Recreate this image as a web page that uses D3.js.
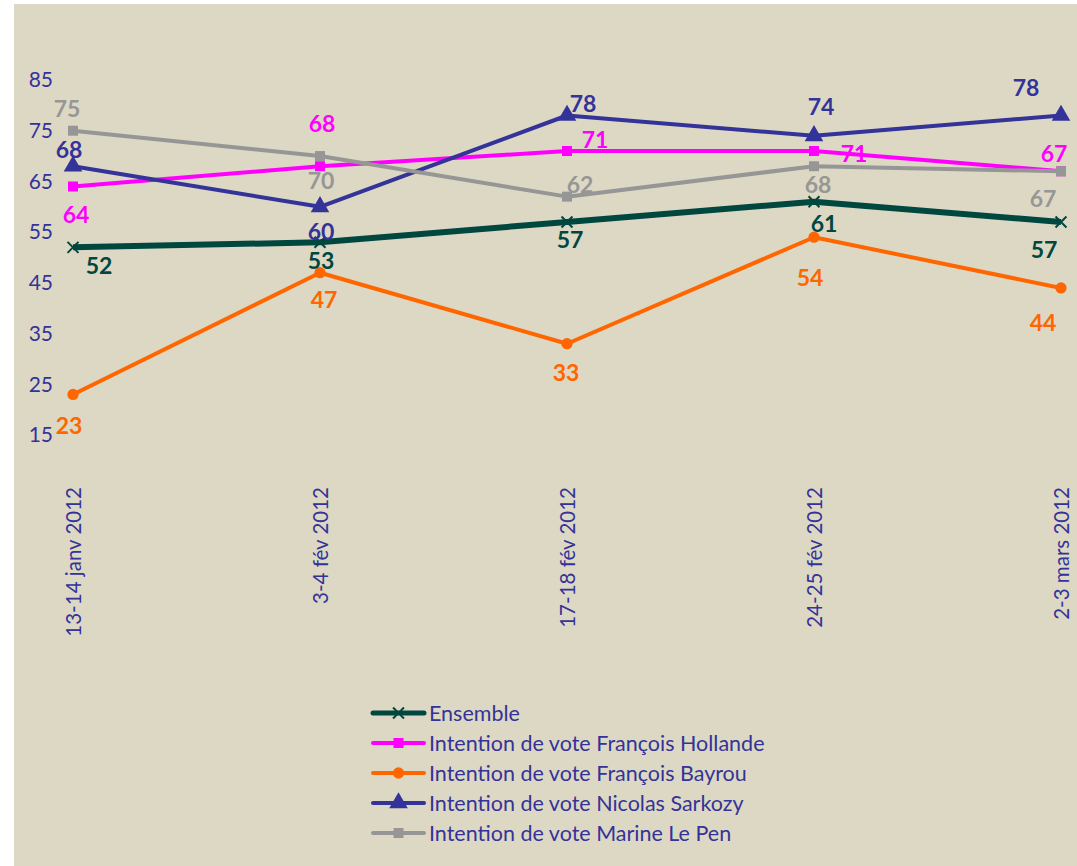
<!DOCTYPE html>
<html>
<head>
<meta charset="utf-8">
<script src="https://cdn.jsdelivr.net/npm/d3@7"></script>
<style>
  html, body { margin: 0; padding: 0; background: #fff; }
  svg { display: block; }
  text { font-family: Lato, "Open Sans", sans-serif; }
</style>
</head>
<body>
<div id="chart"></div>
<script>
// survey dates (x categories)
var dates = ["13-14 janv 2012", "3-4 fév 2012", "17-18 fév 2012", "24-25 fév 2012", "2-3 mars 2012"];

// series values
var ensemble = [52, 53, 57, 61, 57];
var hollande = [64, 68, 71, 71, 67];
var bayrou   = [23, 47, 33, 54, 44];
var sarkozy  = [68, 60, 78, 74, 78];
var lepen    = [75, 70, 62, 68, 67];

var yTicks = [15, 25, 35, 45, 55, 65, 75, 85];

var names = ["Ensemble",
             "Intention de vote François Hollande",
             "Intention de vote François Bayrou",
             "Intention de vote Nicolas Sarkozy",
             "Intention de vote Marine Le Pen"];

// styling for each series (same order as names)
var series = [
  { values: ensemble, color: "#00473f", width: 6,   marker: "times"   },
  { values: hollande, color: "#ff00ff", width: 4,   marker: "square"  },
  { values: bayrou,   color: "#ff6600", width: 4,   marker: "circle"  },
  { values: sarkozy,  color: "#333399", width: 4,   marker: "triangle"},
  { values: lepen,    color: "#969696", width: 4,   marker: "square"  }
];
series.forEach(function(s, i) { s.name = names[i]; });

// data label offsets from the point (dx, dy), roughly as Excel placed them
var labelOffsets = [
  [[26, 18], [1, 18], [3, 18], [10, 22], [-17, 28]],
  [[3, 28], [2, -42], [28, -11], [40, 3], [-7, -18]],
  [[-4, 31], [4, 27], [-1, 29], [-4, 41], [-18, 35]],
  [[-4, -16], [1, 25], [16, -12], [7, -29], [-35, -28]],
  [[-6, -22], [1, 25], [13, -12], [4, 19], [-18, 27]]
];

var width = 1077, height = 866;

var svg = d3.select("#chart").append("svg")
    .attr("width", width)
    .attr("height", height);

// chart area background
svg.append("rect")
    .attr("x", 14).attr("y", 4)
    .attr("width", width - 14).attr("height", height - 4)
    .attr("fill", "#ddd8c3");

var x = d3.scalePoint().domain(dates).range([73, 1061]);
var y = d3.scaleLinear().domain([15, 85]).range([435, 80]);

var axisColor = "#333399";

// y axis labels only, no line
var yAxis = svg.append("g")
    .attr("transform", "translate(53,0)")
    .call(d3.axisLeft(y).tickValues(yTicks).tickSize(0).tickPadding(0));
yAxis.select(".domain").remove();
yAxis.selectAll("text")
    .attr("fill", axisColor)
    .style("font-size", "21px")
    .style("font-family", "Lato, sans-serif");

// x axis labels, rotated
var xAxis = svg.append("g")
    .attr("transform", "translate(0,487)")
    .call(d3.axisBottom(x).tickSize(0).tickPadding(0));
xAxis.select(".domain").remove();
xAxis.selectAll("text")
    .attr("fill", axisColor)
    .style("font-size", "20.5px")
    .style("font-family", "Lato, sans-serif")
    .attr("text-anchor", "end")
    .attr("dy", "0.35em")
    .attr("y", 0)
    .attr("transform", "rotate(-90)");

var line = d3.line()
    .x(function(d, i) { return x(dates[i]); })
    .y(function(d) { return y(d); });

function markerPath(type) {
  if (type === "square") return d3.symbol().type(d3.symbolSquare).size(100)();
  if (type === "circle") return d3.symbol().type(d3.symbolCircle).size(100)();
  if (type === "triangle") return d3.symbol().type(d3.symbolTriangle).size(150)();
  return d3.symbol().type(d3.symbolTimes).size(80)();
}

function drawMarker(g, s, cx, cy) {
  var m = g.append("path")
      .attr("d", markerPath(s.marker))
      .attr("transform", "translate(" + cx + "," + cy + ")");
  if (s.marker === "times") {
    m.attr("fill", "none").attr("stroke", s.color).attr("stroke-width", 2);
  } else {
    m.attr("fill", s.color);
  }
}

var plot = svg.append("g");

series.forEach(function(s) {
  var g = plot.append("g");
  g.append("path")
      .datum(s.values)
      .attr("d", line)
      .attr("fill", "none")
      .attr("stroke", s.color)
      .attr("stroke-width", s.width)
      .attr("stroke-linejoin", "round");
  s.values.forEach(function(v, i) {
    drawMarker(g, s, x(dates[i]), y(v));
  });
});

// data labels on top
var labels = svg.append("g");
series.forEach(function(s, k) {
  labels.selectAll(null)
    .data(s.values)
    .enter().append("text")
      .attr("x", function(d, i) { return x(dates[i]) + labelOffsets[k][i][0]; })
      .attr("y", function(d, i) { return y(d) + labelOffsets[k][i][1]; })
      .attr("dy", "0.36em")
      .attr("text-anchor", "middle")
      .attr("fill", s.color)
      .style("font-size", "23px")
      .style("font-weight", "bold")
      .text(function(d) { return d; });
});

// legend
var legend = svg.append("g").attr("transform", "translate(371,713)");
series.forEach(function(s, i) {
  var row = legend.append("g").attr("transform", "translate(0," + (i * 30) + ")");
  row.append("line")
      .attr("x1", 2).attr("x2", 53)
      .attr("stroke", s.color)
      .attr("stroke-width", s.marker === "times" ? 5 : 4)
      .attr("stroke-linecap", "round");
  drawMarker(row, s, 27.5, 0);
  row.append("text")
      .attr("x", 58)
      .attr("dy", "0.35em")
      .attr("fill", axisColor)
      .style("font-size", "21.5px")
      .text(s.name);
});
</script>
</body>
</html>
